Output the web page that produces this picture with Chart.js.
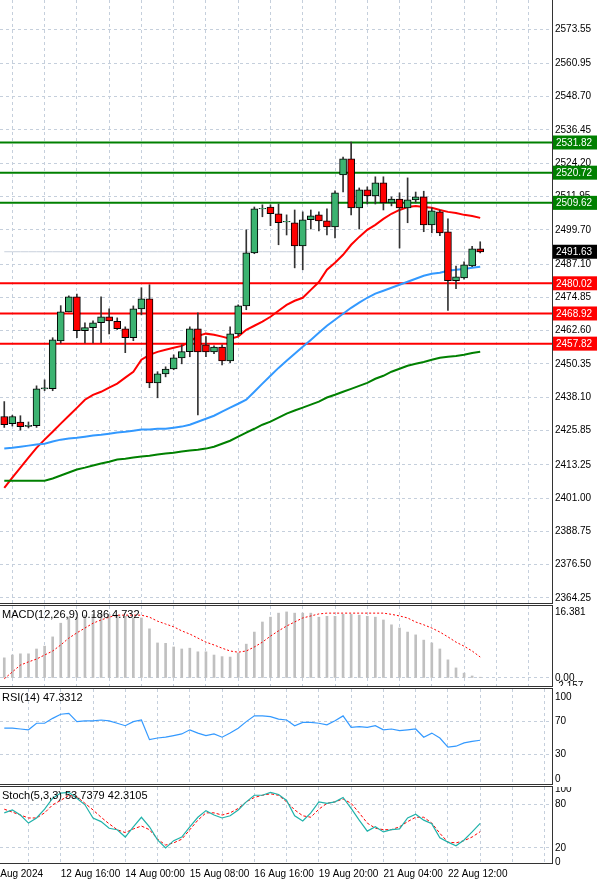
<!DOCTYPE html>
<html>
<head>
<meta charset="utf-8">
<script src="https://cdn.jsdelivr.net/npm/chart.js@4"></script>
<style>
  body { margin: 0; background: #fff; width: 600px; height: 885px; overflow: hidden; position: relative; }
  .pane { position: absolute; left: 0; width: 600px; }
  .sep { position: absolute; left: 0; width: 553px; height: 3px; border-top: 1px solid #333; border-bottom: 1px solid #333; box-sizing: border-box; }
</style>
</head>
<body>
<div class="pane" style="top:0;height:603px"><canvas id="main"></canvas></div>
<div class="sep" style="top:603px"></div>
<div class="pane" style="top:606px;height:80px"><canvas id="macd"></canvas></div>
<div class="sep" style="top:686px"></div>
<div class="pane" style="top:689px;height:95px"><canvas id="rsi"></canvas></div>
<div class="sep" style="top:784px"></div>
<div class="pane" style="top:787px;height:98px"><canvas id="stoch"></canvas></div>
<div class="sep" style="top:863px;height:1px;border-bottom:none"></div>
<script>
// H4 candles, XAUUSD-like, 60 bars
const openP = [2431.0,2428.4,2429.0,2427.4,2427.6,2441.2,2441.3,2458.8,2469.5,2475.0,
  2462.6,2463.7,2465.5,2467.7,2466.0,2463.3,2460.0,2470.6,2474.3,2443.4,
  2446.7,2448.5,2452.6,2454.9,2463.3,2457.4,2454.8,2456.6,2451.5,2461.4,
  2471.7,2491.2,2507.4,2508.1,2505.6,2502.6,2502.3,2493.8,2503.4,2505.2,
  2503.0,2500.8,2519.9,2525.8,2507.8,2514.4,2512.2,2517.0,2509.6,2511.0,
  2507.8,2510.7,2511.8,2501.5,2506.3,2499.0,2481.0,2482.0,2486.4,2492.7];
const highP = [2436.5,2431.5,2431.3,2429.0,2442.3,2444.5,2460.0,2471.8,2475.4,2476.1,
  2465.5,2466.2,2475.0,2470.6,2467.3,2464.0,2471.7,2478.4,2479.5,2447.5,
  2449.3,2453.7,2457.4,2464.0,2469.2,2460.4,2457.0,2457.4,2464.0,2472.1,
  2499.7,2508.1,2508.9,2508.9,2509.2,2505.2,2507.0,2506.3,2507.0,2506.3,
  2507.4,2514.0,2526.5,2532.0,2515.1,2515.5,2519.2,2519.2,2511.8,2513.3,
  2518.8,2513.6,2513.9,2507.8,2507.0,2503.7,2486.4,2487.9,2493.6,2495.3];
const lowP = [2427.0,2427.5,2426.0,2426.8,2427.0,2440.5,2440.5,2458.0,2469.5,2460.0,
  2458.1,2458.1,2458.2,2461.4,2463.0,2454.5,2458.9,2468.4,2441.6,2437.9,
  2445.6,2448.2,2450.4,2453.0,2431.6,2453.0,2454.1,2450.0,2450.8,2460.7,
  2470.3,2490.9,2504.5,2501.2,2494.2,2497.8,2485.7,2485.0,2500.0,2499.3,
  2497.8,2496.7,2513.6,2505.2,2500.0,2509.2,2509.2,2507.0,2508.5,2493.0,
  2502.3,2509.6,2499.0,2498.6,2497.5,2470.0,2478.0,2481.5,2486.1,2491.2];
const closeP = [2428.0,2431.0,2427.3,2427.8,2441.2,2441.6,2459.2,2469.5,2475.0,2462.6,
  2463.7,2465.5,2467.7,2466.2,2463.3,2460.0,2470.6,2474.3,2443.4,2446.7,
  2448.5,2452.6,2454.9,2463.3,2454.8,2454.8,2456.6,2451.5,2461.4,2471.7,
  2491.2,2507.4,2507.6,2505.6,2502.3,2502.8,2493.8,2503.4,2504.8,2503.0,
  2500.8,2513.3,2525.8,2507.8,2514.4,2512.2,2517.0,2509.6,2511.0,2507.8,
  2510.7,2511.8,2501.5,2506.7,2498.6,2481.0,2482.4,2486.8,2492.7,2491.6];

const maRed = [2404.8,2408.5,2412.2,2415.9,2419.5,2422.5,2425.4,2428.4,2431.3,2434.2,
  2437.2,2439.0,2440.1,2441.6,2443.1,2445.3,2447.5,2451.9,2453.7,2454.8,
  2455.6,2456.3,2457.0,2458.5,2460.7,2461.5,2461.1,2460.4,2459.6,2460.4,
  2462.9,2464.4,2465.9,2467.7,2469.9,2472.1,2473.6,2474.7,2477.6,2480.5,
  2485.0,2487.6,2490.5,2494.2,2497.1,2499.7,2501.5,2503.7,2505.6,2507.0,
  2508.1,2508.5,2508.1,2507.8,2507.0,2506.3,2505.9,2505.2,2504.8,2504.1];
const maBlue = [2419.2,2419.5,2419.9,2420.3,2420.7,2421.0,2421.8,2422.5,2422.9,2423.2,
  2423.6,2424.0,2424.3,2424.7,2425.1,2425.4,2425.8,2426.2,2426.2,2426.5,
  2426.5,2426.9,2427.3,2428.0,2429.1,2430.2,2431.3,2432.8,2434.3,2435.7,
  2437.2,2440.1,2443.1,2446.0,2448.9,2451.5,2454.1,2456.7,2459.2,2461.8,
  2464.4,2466.6,2468.8,2471.0,2472.9,2474.7,2476.2,2477.3,2478.4,2479.5,
  2480.6,2481.7,2482.8,2483.5,2483.9,2484.6,2485.0,2485.3,2485.7,2486.1];
const maGreen = [2407.4,2407.4,2407.4,2407.4,2407.4,2407.4,2408.2,2409.3,2410.4,2411.5,
  2412.2,2413.0,2413.7,2414.4,2415.2,2415.5,2415.9,2416.3,2416.6,2417.0,
  2417.4,2417.7,2418.1,2418.5,2418.8,2419.2,2419.9,2421.0,2422.1,2423.6,
  2425.1,2426.5,2428.0,2429.1,2430.6,2432.1,2433.2,2434.3,2435.4,2436.5,
  2438.0,2439.0,2440.1,2441.2,2442.3,2443.4,2444.9,2446.0,2447.5,2448.6,
  2449.7,2450.4,2451.1,2451.9,2452.6,2453.0,2453.3,2453.7,2454.4,2454.8];

const greenLevels = [2531.82, 2520.72, 2509.62];
const redLevels = [2480.02, 2468.92, 2457.82];
const lastPrice = 2491.63;
const priceTicks = [2585.80,2573.55,2560.95,2548.70,2536.45,2524.20,2511.95,2499.70,2487.10,2474.85,
  2462.60,2450.35,2438.10,2425.85,2413.25,2401.00,2388.75,2376.50,2364.25];

const macdHist = [5.0,5.7,6.0,6.0,7.2,7.9,10.2,13.6,15.1,15.1,
  15.6,15.8,16.0,15.8,15.6,15.3,14.9,14.9,12.2,8.7,
  8.6,7.7,7.2,7.4,6.5,6.5,5.7,5.3,5.2,6.2,
  8.4,11.4,13.9,15.1,16.1,16.4,16.1,16.1,16.1,15.1,
  15.3,15.3,15.8,15.8,15.6,15.3,15.1,14.4,13.2,12.4,
  11.4,10.7,9.4,8.7,7.2,4.5,2.5,1.2,0.5,0.186];
const macdSignal = [-0.2,1.5,3.2,4.0,4.7,5.7,6.7,8.2,9.9,11.2,
  12.4,13.6,14.4,15.1,15.6,15.6,15.6,15.6,15.1,14.1,
  13.4,12.7,11.7,10.9,9.9,8.9,8.2,7.4,6.7,6.4,
  6.7,7.7,8.9,10.4,11.7,12.9,13.9,14.9,15.4,15.9,
  16.1,16.1,16.1,16.1,16.1,16.1,16.1,16.1,15.8,15.4,
  14.9,13.9,13.2,12.4,11.4,10.2,8.9,7.9,6.7,5.2];
const macdTicks = [16.381, 0, -2.157];

const rsiVals = [62,62,61,60,68,68,74,79,80,70,
  71,71,72,71,68,65,70,72,48,50,
  51,53,55,60,56,53,55,51,56,62,
  70,77,77,76,73,72,65,69,69,68,
  66,71,77,63,64,63,65,60,61,59,
  60,61,51,56,50,39,40,44,46,47.3];
const rsiTicks = [100, 70, 30, 0];

const stochK = [68,72,65,54,61,73,88,95,96,88,
  79,61,56,47,45,35,49,62,49,31,
  20,30,35,49,62,71,65,61,64,72,
  83,92,92,96,93,85,64,57,68,83,
  81,83,89,74,58,43,49,42,45,46,
  61,66,58,53,34,28,23,31,42,53.7];
const stochD = [73,69,65,61,61,68,79,85,92,90,
  81,72,62,53,45,41,46,50,45,32,
  24,27,32,45,58,68,68,65,68,74,
  83,89,92,94,92,83,72,64,62,73,
  81,83,87,81,68,54,47,45,45,49,
  56,62,62,54,40,28,27,30,35,42.3];
const stochTicks = [100, 80, 20, 0];

const timeLabels = { "-0.5": "Aug 2024", 7: "12 Aug 16:00", 15: "14 Aug 00:00", 23: "15 Aug 08:00",
  31: "16 Aug 16:00", 39: "19 Aug 20:00", 47: "21 Aug 04:00", 55: "22 Aug 12:00" };

const idx = openP.map((_, i) => i);
const X_MIN = -0.53, X_MAX = 67.9;
const FONT = "'Liberation Sans', Arial, sans-serif";
const gridCol = "#c5cfdc";

const zeroPad = (s) => { s.paddingTop = 0; s.paddingBottom = 0; s.paddingLeft = 0; s.paddingRight = 0; };

function xScale(withLabels) {
  return {
    type: "linear", min: X_MIN, max: X_MAX, offset: false,
    afterBuildTicks: (s) => {
      const t = [];
      if (withLabels) t.push({ value: -0.5 });
      for (let v = 3; v <= 67; v += 4) t.push({ value: v });
      s.ticks = t;
    },
    afterFit: (s) => { s.height = withLabels ? 22 : 0; zeroPad(s); },
    grid: { color: (c) => c.tick && c.tick.value < 0 ? "transparent" : gridCol, drawTicks: false, tickLength: 0, lineWidth: 1 },
    border: { display: false, dash: [3, 3] },
    ticks: {
      display: withLabels, autoSkip: false, maxRotation: 0, align: "start", padding: 5,
      color: "#000", font: { family: FONT, size: 10 },
      callback: (v) => timeLabels[v] || ""
    }
  };
}

function yScale(min, max, ticks, fmt, gridFilter) {
  return {
    position: "right", min, max,
    afterBuildTicks: (s) => { s.ticks = ticks.map(v => ({ value: v })); },
    afterFit: (s) => { s.width = 48; zeroPad(s); },
    grid: { color: (c) => (gridFilter && !gridFilter(c.tick && c.tick.value)) ? "transparent" : gridCol, drawTicks: false },
    border: { display: true, color: "#333", dash: [3, 3] },
    ticks: { color: "#000", padding: 3, font: { family: FONT, size: 10 }, callback: fmt }
  };
}

const baseOpts = {
  responsive: true, maintainAspectRatio: false, animation: false,
  layout: { padding: 0 },
  plugins: { legend: { display: false }, tooltip: { enabled: false } },
  elements: { point: { radius: 0 } }
};

function titlePlugin(text) {
  return {
    id: "title_" + text.length,
    afterDraw(chart) {
      const ctx = chart.ctx;
      ctx.save();
      ctx.font = "11px " + FONT;
      ctx.fillStyle = "#000";
      ctx.textBaseline = "top";
      ctx.fillText(text, 2, 3);
      ctx.restore();
    }
  };
}

// price boxes on the right axis
const levelBoxes = {
  id: "levelBoxes",
  afterDraw(chart) {
    const ctx = chart.ctx, y = chart.scales.y;
    const box = (v, bg) => {
      const py = y.getPixelForValue(v);
      ctx.fillStyle = bg;
      ctx.fillRect(553, py - 7, 44, 14);
      ctx.fillStyle = "#fff";
      ctx.font = "10px " + FONT;
      ctx.textBaseline = "middle";
      ctx.fillText(v.toFixed(2), 556, py + 0.5);
    };
    ctx.save();
    greenLevels.forEach(v => box(v, "#008000"));
    redLevels.forEach(v => box(v, "#ff0000"));
    box(lastPrice, "#000");
    ctx.restore();
  }
};

const levelLine = (v, col) => ({
  type: "line", data: [{ x: X_MIN, y: v }, { x: X_MAX, y: v }],
  borderColor: col, borderWidth: 2, pointRadius: 0, order: 5
});
const candleCol = idx.map(i => closeP[i] >= openP[i] ? "#3cb371" : "#ff0000");

new Chart(document.getElementById("main"), {
  data: {
    datasets: [
      ...greenLevels.map(v => levelLine(v, "#008000")),
      ...redLevels.map(v => levelLine(v, "#ff0000")),
      { type: "line", data: idx.map(i => ({ x: i, y: lastPrice })), borderColor: "#c8d0dc", borderWidth: 1, order: 6 },
      { type: "line", data: idx.map(i => ({ x: i, y: maGreen[i] })), borderColor: "#008000", borderWidth: 2, order: 4 },
      { type: "line", data: idx.map(i => ({ x: i, y: maBlue[i] })), borderColor: "#3399ff", borderWidth: 2, order: 4 },
      { type: "line", data: idx.map(i => ({ x: i, y: maRed[i] })), borderColor: "#ff0000", borderWidth: 2, order: 4 },
      { type: "bar", data: idx.map(i => ({ x: i, y: [lowP[i], highP[i]] })), backgroundColor: "#333",
        barThickness: 1, grouped: false, order: 3 },
      { type: "bar", data: idx.map(i => ({ x: i, y: [openP[i], closeP[i]] })), backgroundColor: candleCol,
        borderColor: "#000", borderWidth: 1, borderSkipped: false, barThickness: 7, grouped: false, order: 2 }
    ]
  },
  options: {
    ...baseOpts,
    scales: {
      x: xScale(false),
      y: yScale(2362.4, 2584.25, priceTicks, (v) => v.toFixed(2))
    }
  },
  plugins: [levelBoxes]
});

new Chart(document.getElementById("macd"), {
  data: {
    datasets: [
      { type: "line", data: idx.map(i => ({ x: i, y: macdSignal[i] })), borderColor: "#ff0000", borderWidth: 1, borderDash: [2, 2], order: 1 },
      { type: "bar", data: idx.map(i => ({ x: i, y: macdHist[i] })), backgroundColor: "#c0c0c0", barThickness: 2, grouped: false, order: 2 }
    ]
  },
  options: {
    ...baseOpts,
    scales: {
      x: xScale(false),
      y: yScale(-1.99, 17.87, macdTicks, (v) => v === 0 ? "0.00" : String(v), (v) => v === 0)
    }
  },
  plugins: [titlePlugin("MACD(12,26,9) 0.186 4.732")]
});

new Chart(document.getElementById("rsi"), {
  data: {
    datasets: [
      { type: "line", data: idx.map(i => ({ x: i, y: rsiVals[i] })), borderColor: "#3399ff", borderWidth: 1.2 }
    ]
  },
  options: {
    ...baseOpts,
    scales: {
      x: xScale(false),
      y: yScale(-6.1, 109.8, rsiTicks, (v) => String(v), (v) => v === 70 || v === 30)
    }
  },
  plugins: [titlePlugin("RSI(14) 47.3312")]
});

new Chart(document.getElementById("stoch"), {
  data: {
    datasets: [
      { type: "line", data: idx.map(i => ({ x: i, y: stochK[i] })), borderColor: "#20b2aa", borderWidth: 1.2 },
      { type: "line", data: idx.map(i => ({ x: i, y: stochD[i] })), borderColor: "#ff0000", borderWidth: 1, borderDash: [3, 2] }
    ]
  },
  options: {
    ...baseOpts,
    scales: {
      x: xScale(true),
      y: yScale(-0.5, 103.3, stochTicks, (v) => String(v), (v) => v === 80 || v === 20)
    }
  },
  plugins: [titlePlugin("Stoch(5,3,3) 53.7379 42.3105")]
});
</script>
</body>
</html>
